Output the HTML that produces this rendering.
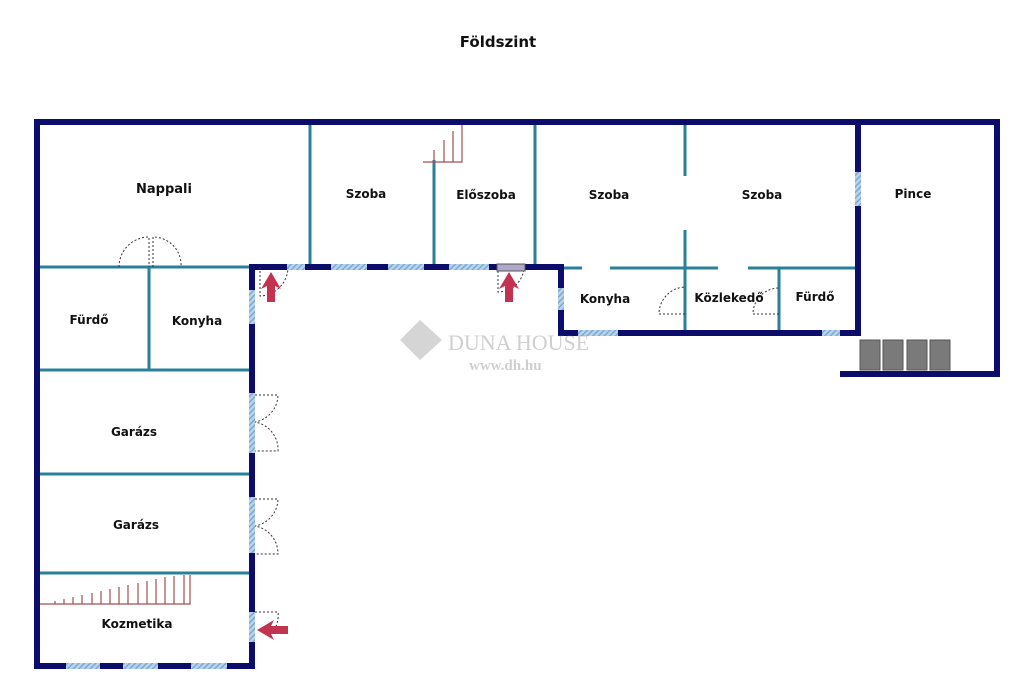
<!DOCTYPE html>
<html><head><meta charset="utf-8"><style>
html,body{margin:0;padding:0;background:#fff}
svg{display:block}
text{font-family:"DejaVu Sans","Liberation Sans",sans-serif;font-weight:bold;fill:#111}
</style></head><body>
<svg width="1024" height="690" viewBox="0 0 1024 690" xmlns="http://www.w3.org/2000/svg">
<defs>
<pattern id="h" width="4" height="4" patternUnits="userSpaceOnUse" patternTransform="rotate(45)">
<rect width="4" height="4" fill="#b8d4ec"/><rect width="1.5" height="4" fill="#7fa8d0"/></pattern>
</defs>
<text x="498" y="47" font-size="15" text-anchor="middle">Földszint</text>

<g stroke="#2a7f9a" stroke-width="3" fill="none">
<line x1="310" y1="122" x2="310" y2="267"/>
<line x1="434" y1="160" x2="434" y2="267"/>
<line x1="535" y1="122" x2="535" y2="267"/>
<line x1="685" y1="122" x2="685" y2="176"/>
<line x1="685" y1="230" x2="685" y2="333"/>
<line x1="37" y1="267" x2="252" y2="267"/>
<line x1="149" y1="267" x2="149" y2="370"/>
<line x1="37" y1="370" x2="252" y2="370"/>
<line x1="37" y1="474" x2="252" y2="474"/>
<line x1="37" y1="573" x2="252" y2="573"/>
<line x1="561" y1="268" x2="582" y2="268"/>
<line x1="610" y1="268" x2="718" y2="268"/>
<line x1="748" y1="268" x2="858" y2="268"/>
<line x1="779" y1="268" x2="779" y2="333"/>
</g>

<g stroke="#a05050" stroke-width="1.2" fill="none">
<polyline points="423,162 462,162 462,125"/>
<line x1="434" y1="162" x2="434" y2="150"/><line x1="444" y1="162" x2="444" y2="140"/><line x1="453" y1="162" x2="453" y2="131"/>
<polyline points="40,604 190,604 190,575"/>
<g>
<line x1="55" y1="604" x2="55" y2="601"/><line x1="64" y1="604" x2="64" y2="599"/><line x1="73" y1="604" x2="73" y2="597"/><line x1="82" y1="604" x2="82" y2="595"/><line x1="92" y1="604" x2="92" y2="593"/><line x1="101" y1="604" x2="101" y2="591"/><line x1="110" y1="604" x2="110" y2="589"/><line x1="119" y1="604" x2="119" y2="587"/><line x1="128" y1="604" x2="128" y2="585"/><line x1="138" y1="604" x2="138" y2="583"/><line x1="147" y1="604" x2="147" y2="581"/><line x1="156" y1="604" x2="156" y2="579"/><line x1="165" y1="604" x2="165" y2="577"/><line x1="174" y1="604" x2="174" y2="576"/><line x1="184" y1="604" x2="184" y2="575"/>
</g></g>

<g stroke="#0c0c6a" stroke-width="6" fill="none" stroke-linecap="square">
<polyline points="37,666 37,122 997,122 997,374"/>
<line x1="843" y1="374" x2="997" y2="374"/>
<line x1="858" y1="122" x2="858" y2="333"/>
<polyline points="37,666 252,666 252,267 561,267 561,333 858,333"/>
</g>
<g fill="url(#h)">
<rect x="66" y="663" width="34" height="6"/><rect x="123" y="663" width="35" height="6"/><rect x="191" y="663" width="36" height="6"/>
<rect x="287" y="264" width="18" height="6"/><rect x="331" y="264" width="36" height="6"/><rect x="388" y="264" width="36" height="6"/><rect x="449" y="264" width="40" height="6"/>
<rect x="249" y="290" width="6" height="34"/>
<rect x="558" y="288" width="6" height="22"/>
<rect x="578" y="330" width="40" height="6"/>
<rect x="822" y="330" width="18" height="6"/>
<rect x="855" y="172" width="6" height="34"/>
<rect x="249" y="393" width="6" height="60"/><rect x="249" y="497" width="6" height="56"/><rect x="249" y="612" width="6" height="30"/>
</g>
<g stroke="#333" stroke-width="1" stroke-dasharray="2,2" fill="none">
<path d="M119,267 A30,30 0 0 1 149,237 L149,267"/>
<path d="M153,267 L153,237 A28,28 0 0 1 181,267"/>
<path d="M260,267 L260,296 A29,29 0 0 0 288,268"/>
<path d="M498,267 L498,292 A26,26 0 0 0 524,268"/>
<path d="M685,314 L659,314 A27,27 0 0 1 685,287"/>
<path d="M779,314 L753,314 A26,26 0 0 1 779,288"/>
<path d="M255,395 L278,395 A28,28 0 0 1 255,422 A28,28 0 0 1 278,451 L255,451"/>
<path d="M255,499 L278,499 A28,28 0 0 1 255,526 A28,28 0 0 1 278,554 L255,554"/>
<path d="M255,612 L278,612 A28,28 0 0 1 268,637"/>
</g>
<rect x="497" y="264" width="28" height="7" fill="#b0a8c8" stroke="#555" stroke-width="1"/>
<g fill="#c2334f">
<polygon points="271,272 281,289 275,286 275,302 267,302 267,286 261,289"/>
<polygon points="509,272 519,289 513,286 513,302 505,302 505,286 499,289"/>
<polygon points="257,630 274,620 271,626 288,626 288,634 271,634 274,640"/>
</g>
<g fill="#7a7a7a" stroke="#555" stroke-width="1">
<rect x="860" y="340" width="20" height="30"/><rect x="883" y="340" width="20" height="30"/><rect x="907" y="340" width="20" height="30"/><rect x="930" y="340" width="20" height="30"/>
</g>
<g opacity="0.35">
<polygon points="400,340 420,320 442,340 420,360" fill="#888"/>
<text x="448" y="350" font-size="22" style="font-family:'Liberation Serif',serif;font-weight:normal;fill:#777">DUNA HOUSE</text>
<text x="469" y="370" font-size="15" style="font-family:'Liberation Serif',serif;fill:#777">www.dh.hu</text>
</g>
<g font-size="12" text-anchor="middle">
<text x="164" y="193" font-size="13">Nappali</text>
<text x="366" y="198">Szoba</text>
<text x="486" y="199">Előszoba</text>
<text x="609" y="199">Szoba</text>
<text x="762" y="199">Szoba</text>
<text x="913" y="198">Pince</text>
<text x="89" y="324">Fürdő</text>
<text x="197" y="325">Konyha</text>
<text x="605" y="303">Konyha</text>
<text x="729" y="302">Közlekedő</text>
<text x="815" y="301">Fürdő</text>
<text x="134" y="436">Garázs</text>
<text x="136" y="529">Garázs</text>
<text x="137" y="628">Kozmetika</text>
</g>
</svg>
</body></html>
